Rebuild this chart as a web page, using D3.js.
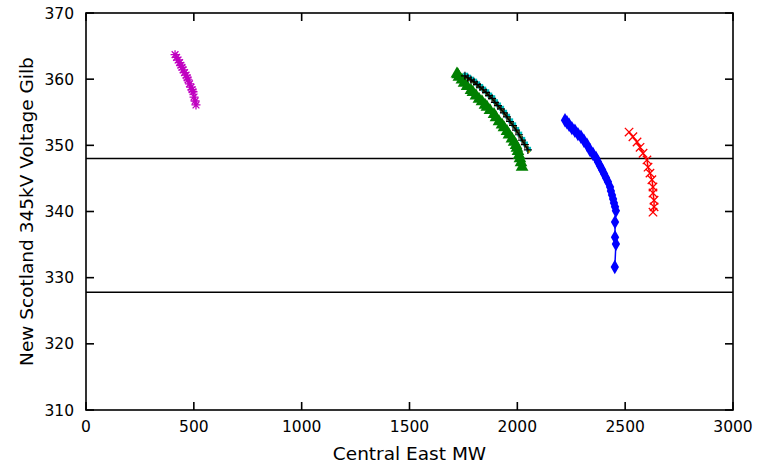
<!DOCTYPE html>
<html><head><meta charset="utf-8">
<script src="https://cdn.jsdelivr.net/npm/d3@7"></script>
<style>body{margin:0;background:#fff}svg{display:block}text{font-family:"DejaVu Sans",sans-serif}</style>
</head><body><svg id="c" width="773" height="468"></svg>
<script>
const xTicks=[0,500,1000,1500,2000,2500,3000];
const yTicks=[310,320,330,340,350,360,370];
const limitLines=[348,327.8];

const magentaX=[413,420,427,434,440,445,450,457,464,469,473,480,487,492,496,501,506,510];
const magentaY=[363.7,363.3,362.9,362.5,362.1,361.8,361.4,361.0,360.6,360.2,359.9,359.3,358.8,358.4,358.1,357.3,356.7,356.1];

const greenX=[1720,1724,1729,1743,1753,1767,1785,1794,1808,1822,1836,1850,1859,1873,1892,1901,1915,1929,1938,1952,1961,1975,1985,1994,1998,2003,2008,2012,2017,2022];
const greenY=[360.8,360.7,360.3,359.9,359.4,358.9,358.3,358.0,357.5,357.0,356.6,356.1,355.8,355.3,354.7,354.2,353.6,353.1,352.7,352.1,351.6,351.0,350.5,350.0,349.6,349.1,348.5,348.0,347.4,346.7];

const blackX=[1757,1771,1785,1799,1813,1827,1841,1855,1869,1883,1896,1910,1924,1938,1952,1966,1980,1994,2008,2022,2035,2049];
const blackY=[360.5,360.2,359.9,359.6,359.2,358.8,358.4,358.0,357.5,357.1,356.5,356.0,355.5,354.9,354.3,353.6,353.0,352.3,351.6,350.8,350.1,349.3];

const cyanX=[1760,1774,1788,1802,1816,1830,1844,1858,1872,1886,1899,1913,1927,1941,1955,1969,1983,1997,2011,2025,2038,2052];
const cyanY=[360.6,360.3,360.0,359.7,359.3,358.9,358.5,358.1,357.6,357.2,356.6,356.1,355.6,355.0,354.4,353.7,353.1,352.4,351.7,350.9,350.2,349.4];

const yellowX=[1762,1776,1790,1804,1818,1832,1846,1860,1874,1888,1901,1915,1929,1943,1957,1971,1985,1999,2013,2027,2040,2053];
const yellowY=[360.3,360.0,359.7,359.4,359.0,358.6,358.2,357.8,357.3,356.9,356.3,355.8,355.3,354.7,354.1,353.4,352.8,352.1,351.4,350.6,349.9,349.1];

const blueX=[2221,2230,2240,2253,2267,2281,2295,2309,2323,2337,2351,2365,2374,2383,2393,2402,2411,2420,2430,2434,2439,2444,2448,2453,2457,2453,2453,2457,2452];
const blueY=[353.8,353.5,353.1,352.6,352.2,351.7,351.3,350.7,350.1,349.3,348.7,348.1,347.5,346.9,346.3,345.7,345.1,344.5,343.7,343.1,342.5,341.9,341.3,340.7,340.1,338.4,336.1,335.1,331.6];

const redX=[2518,2536,2555,2569,2583,2601,2606,2615,2624,2629,2629,2634,2634,2629];
const redY=[352.0,351.3,350.5,349.7,348.8,347.8,346.7,345.8,344.8,343.7,342.8,341.7,340.7,339.9];

const svg=d3.select("#c");
const L=86,R=733,T=13,B=410;
const x=d3.scaleLinear().domain([0,3000]).range([L,R]);
const y=d3.scaleLinear().domain([310,370]).range([B,T]);

limitLines.forEach(v=>{
  svg.append("line").attr("x1",L).attr("x2",R).attr("y1",y(v)).attr("y2",y(v))
    .attr("stroke","#000").attr("stroke-width",1.6);
});

const zip=(a,b)=>a.map((v,i)=>[v,b[i]]);
const line=d3.line().x(d=>x(d[0])).y(d=>y(d[1]));

function drawSeries(xs,ys,color,marker){
  const pts=zip(xs,ys);
  svg.append("path").attr("d",line(pts)).attr("fill","none").attr("stroke",color).attr("stroke-width",1.5);
  const g=svg.append("g");
  pts.forEach(p=>{
    const cx=x(p[0]),cy=y(p[1]);
    if(marker==="star"){
      const s=4.5;
      g.append("path").attr("d",`M${cx-s},${cy}L${cx+s},${cy}M${cx},${cy-s}L${cx},${cy+s}M${cx-s*0.75},${cy-s*0.75}L${cx+s*0.75},${cy+s*0.75}M${cx-s*0.75},${cy+s*0.75}L${cx+s*0.75},${cy-s*0.75}`)
        .attr("stroke",color).attr("stroke-width",1.3).attr("fill","none");
    } else if(marker==="plus"){
      const s=4;
      g.append("path").attr("d",`M${cx-s},${cy}L${cx+s},${cy}M${cx},${cy-s}L${cx},${cy+s}`)
        .attr("stroke",color).attr("stroke-width",1.2);
    } else if(marker==="x"){
      const s=4.2;
      g.append("path").attr("d",`M${cx-s},${cy-s}L${cx+s},${cy+s}M${cx-s},${cy+s}L${cx+s},${cy-s}`)
        .attr("stroke",color).attr("stroke-width",1.3);
    } else if(marker==="tri"){
      g.append("path").attr("d",d3.symbol(d3.symbolTriangle,70)()).attr("transform",`translate(${cx},${cy})`).attr("fill",color);
    } else if(marker==="diamond"){
      g.append("path").attr("d",d3.symbol(d3.symbolDiamond,60)()).attr("transform",`translate(${cx},${cy})`).attr("fill",color);
    } else if(marker==="square"){
      g.append("rect").attr("x",cx-2.5).attr("y",cy-2.5).attr("width",5).attr("height",5).attr("fill",color);
    } else if(marker==="dot"){
      g.append("circle").attr("cx",cx).attr("cy",cy).attr("r",1.6).attr("fill",color);
    }
  });
}

drawSeries(magentaX,magentaY,"#c000c0","star");
drawSeries(cyanX,cyanY,"#00c0c0","square");
drawSeries(greenX,greenY,"#008000","tri");
drawSeries(yellowX,yellowY,"#c8b400","dot");
drawSeries(blackX,blackY,"#000000","plus");
drawSeries(blueX,blueY,"#0000ff","diamond");
drawSeries(redX,redY,"#ff0000","x");

const tl=8;
const ax=svg.append("g").attr("stroke","#000").attr("stroke-width",1.6);
ax.append("rect").attr("x",L).attr("y",T).attr("width",R-L).attr("height",B-T).attr("fill","none");
xTicks.forEach(t=>{
  ax.append("line").attr("x1",x(t)).attr("x2",x(t)).attr("y1",B).attr("y2",B-tl);
  ax.append("line").attr("x1",x(t)).attr("x2",x(t)).attr("y1",T).attr("y2",T+tl);
});
yTicks.forEach(t=>{
  ax.append("line").attr("x1",L).attr("x2",L+tl).attr("y1",y(t)).attr("y2",y(t));
  ax.append("line").attr("x1",R).attr("x2",R-tl).attr("y1",y(t)).attr("y2",y(t));
});
xTicks.forEach(t=>{
  svg.append("text").attr("x",x(t)).attr("y",432).attr("text-anchor","middle").attr("font-size",15.5).text(d3.format("d")(t));
});
yTicks.forEach(t=>{
  svg.append("text").attr("x",74).attr("y",y(t)+5.5).attr("text-anchor","end").attr("font-size",15.5).text(t);
});
svg.append("text").attr("x",(L+R)/2).attr("y",460).attr("text-anchor","middle").attr("font-size",18.5).text("Central East MW");
svg.append("text").attr("transform",`translate(33,${(T+B)/2}) rotate(-90)`).attr("text-anchor","middle").attr("font-size",18.5).text("New Scotland 345kV Voltage Gilb");
</script></body></html>
